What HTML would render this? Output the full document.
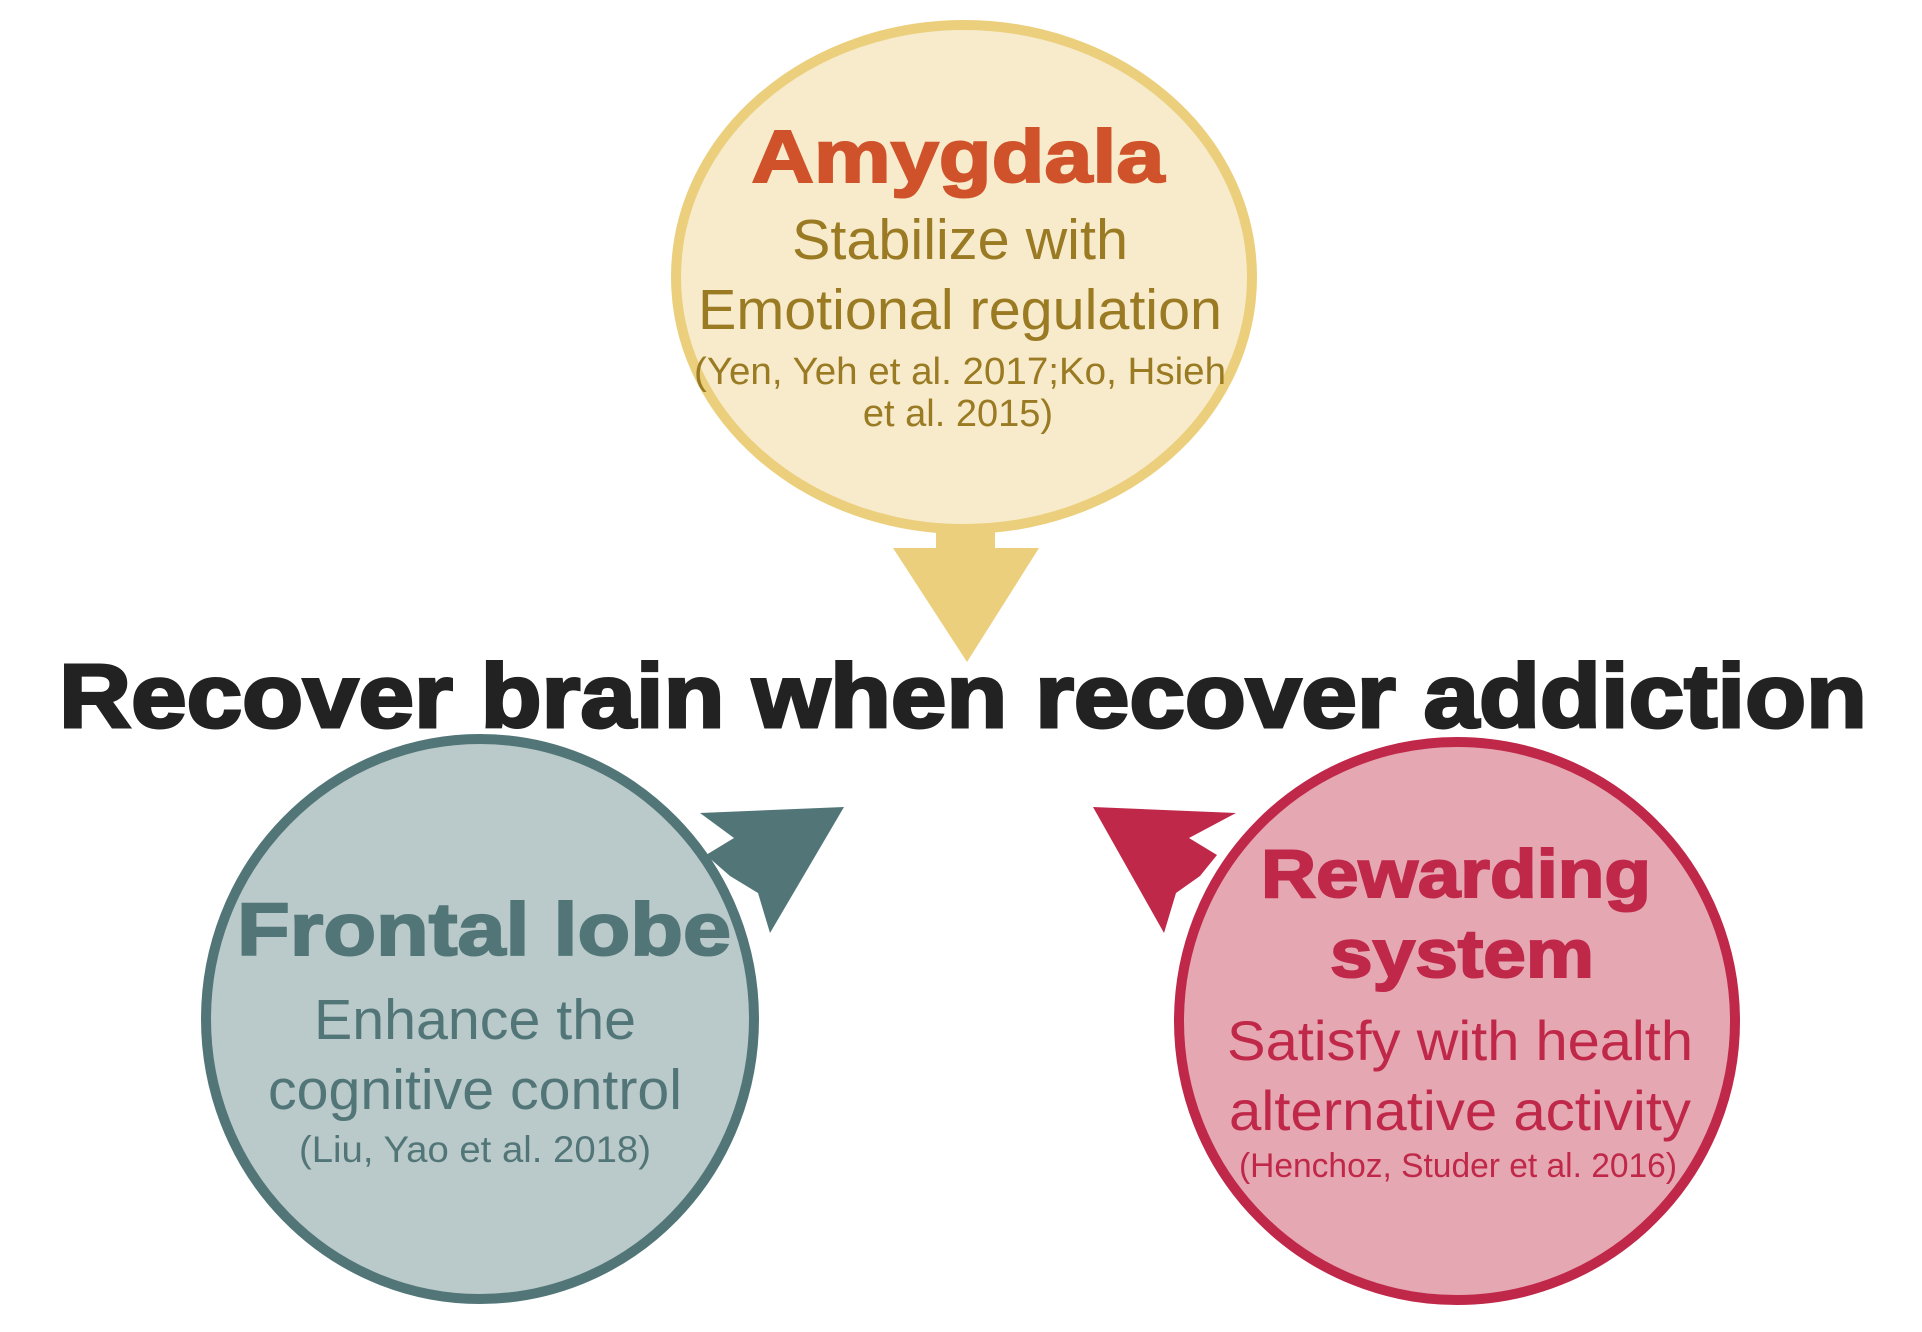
<!DOCTYPE html>
<html><head><meta charset="utf-8"><style>html,body{margin:0;padding:0;background:#fff}svg{display:block}</style></head>
<body>
<svg width="1922" height="1332" viewBox="0 0 1922 1332" xmlns="http://www.w3.org/2000/svg" font-family="Liberation Sans, Arial, sans-serif">
<ellipse cx="964" cy="277" rx="288" ry="252" fill="#f7ebcb" stroke="#ebcf7c" stroke-width="10"/>
<ellipse cx="480" cy="1019" rx="274" ry="280" fill="#bac9c9" stroke="#527678" stroke-width="10"/>
<ellipse cx="1457" cy="1021" rx="278" ry="279" fill="#e5a7b1" stroke="#c0284a" stroke-width="10"/>
<polygon points="936,532 995,532 995,548 1039,548 967,662 893,548 936,548" fill="#ebcf7c"/>
<polygon points="706,855 734,838 700,813 844,807 770,933 758,893 730,876" fill="#527678"/>
<polygon points="1217,855 1189,838 1236,813 1093,807 1164,933 1176,893 1200,876" fill="#c0284a"/>
<text x="963" y="727" text-anchor="middle" font-size="90" font-weight="bold" fill="#222" stroke="#222" stroke-width="3" textLength="1808" lengthAdjust="spacingAndGlyphs">Recover brain when recover addiction</text>
<text x="958" y="182" text-anchor="middle" font-size="74" font-weight="bold" fill="#d0522a" stroke="#d0522a" stroke-width="2" textLength="413" lengthAdjust="spacingAndGlyphs">Amygdala</text>
<g fill="#9a7a22" text-anchor="middle">
<text x="960" y="259" font-size="57" textLength="336" lengthAdjust="spacingAndGlyphs">Stabilize with</text>
<text x="960" y="329" font-size="57" textLength="524" lengthAdjust="spacingAndGlyphs">Emotional regulation</text>
<text x="960" y="384" font-size="38" textLength="532" lengthAdjust="spacingAndGlyphs">(Yen, Yeh et al. 2017;Ko, Hsieh</text>
<text x="958" y="426" font-size="38">et al. 2015)</text>
</g>
<text x="484" y="955" text-anchor="middle" font-size="74" font-weight="bold" fill="#527678" stroke="#527678" stroke-width="2" textLength="494" lengthAdjust="spacingAndGlyphs">Frontal lobe</text>
<g fill="#527678" text-anchor="middle">
<text x="475" y="1039" font-size="57" textLength="322" lengthAdjust="spacingAndGlyphs">Enhance the</text>
<text x="475" y="1109" font-size="57" textLength="414" lengthAdjust="spacingAndGlyphs">cognitive control</text>
<text x="475" y="1162" font-size="37" textLength="352" lengthAdjust="spacingAndGlyphs">(Liu, Yao et al. 2018)</text>
</g>
<g fill="#c0284a" stroke="#c0284a" stroke-width="2" font-weight="bold" text-anchor="middle">
<text x="1456" y="897" font-size="68" textLength="390" lengthAdjust="spacingAndGlyphs">Rewarding</text>
<text x="1462" y="977" font-size="68" textLength="264" lengthAdjust="spacingAndGlyphs">system</text>
</g>
<g fill="#c0284a" text-anchor="middle">
<text x="1460" y="1060" font-size="56" textLength="466" lengthAdjust="spacingAndGlyphs">Satisfy with health</text>
<text x="1460" y="1130" font-size="56" textLength="462" lengthAdjust="spacingAndGlyphs">alternative activity</text>
<text x="1458" y="1177" font-size="34" textLength="438" lengthAdjust="spacingAndGlyphs">(Henchoz, Studer et al. 2016)</text>
</g>
</svg>
</body></html>
